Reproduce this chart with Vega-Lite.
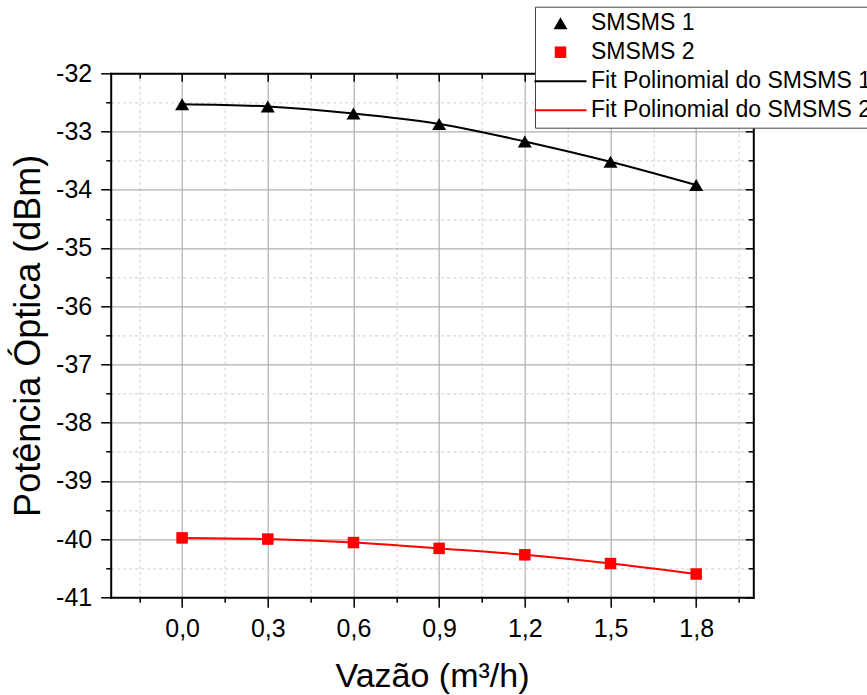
{
  "$schema": "https://vega.github.io/schema/vega-lite/v6.json",
  "width": 642.6,
  "height": 524,
  "autosize": {"type": "none"},
  "padding": {"left": 110.7, "top": 73.3, "right": 113.7, "bottom": 97.7},
  "background": "white",
  "config": {"font": "Liberation Sans", "view": {"stroke": null}},
  "datasets": {
    "pts": [
      {"x": 0.0, "y": -32.53, "lg": "SMSMS 1"},
      {"x": 0.3, "y": -32.57, "lg": "SMSMS 1"},
      {"x": 0.6, "y": -32.69, "lg": "SMSMS 1"},
      {"x": 0.9, "y": -32.87, "lg": "SMSMS 1"},
      {"x": 1.2, "y": -33.17, "lg": "SMSMS 1"},
      {"x": 1.5, "y": -33.52, "lg": "SMSMS 1"},
      {"x": 1.8, "y": -33.92, "lg": "SMSMS 1"},
      {"x": 0.0, "y": -39.98, "lg": "SMSMS 2"},
      {"x": 0.3, "y": -40.00, "lg": "SMSMS 2"},
      {"x": 0.6, "y": -40.06, "lg": "SMSMS 2"},
      {"x": 0.9, "y": -40.16, "lg": "SMSMS 2"},
      {"x": 1.2, "y": -40.27, "lg": "SMSMS 2"},
      {"x": 1.5, "y": -40.42, "lg": "SMSMS 2"},
      {"x": 1.8, "y": -40.60, "lg": "SMSMS 2"}
    ],
    "fit": [
      {"x": 0.0, "y": -32.53, "lg": "Fit Polinomial do SMSMS 1"},
      {"x": 0.3, "y": -32.57, "lg": "Fit Polinomial do SMSMS 1"},
      {"x": 0.6, "y": -32.69, "lg": "Fit Polinomial do SMSMS 1"},
      {"x": 0.9, "y": -32.87, "lg": "Fit Polinomial do SMSMS 1"},
      {"x": 1.2, "y": -33.17, "lg": "Fit Polinomial do SMSMS 1"},
      {"x": 1.5, "y": -33.52, "lg": "Fit Polinomial do SMSMS 1"},
      {"x": 1.8, "y": -33.92, "lg": "Fit Polinomial do SMSMS 1"},
      {"x": 0.0, "y": -39.98, "lg": "Fit Polinomial do SMSMS 2"},
      {"x": 0.3, "y": -40.00, "lg": "Fit Polinomial do SMSMS 2"},
      {"x": 0.6, "y": -40.06, "lg": "Fit Polinomial do SMSMS 2"},
      {"x": 0.9, "y": -40.16, "lg": "Fit Polinomial do SMSMS 2"},
      {"x": 1.2, "y": -40.27, "lg": "Fit Polinomial do SMSMS 2"},
      {"x": 1.5, "y": -40.42, "lg": "Fit Polinomial do SMSMS 2"},
      {"x": 1.8, "y": -40.60, "lg": "Fit Polinomial do SMSMS 2"}
    ]
  },
  "layer": [
    {
      "data": {"name": "fit"},
      "mark": {"type": "line", "interpolate": "monotone", "strokeWidth": 2},
      "encoding": {
        "x": {
          "field": "x", "type": "quantitative",
          "scale": {"domain": [-0.25, 2.0], "nice": false, "zero": false},
          "axis": {
            "orient": "bottom",
            "title": "Vazão (m³/h)",
            "titleFont": "Liberation Sans", "titleFontSize": 34, "titleFontWeight": "normal", "titleColor": "black", "titlePadding": 18,
            "values": [-0.15, 0, 0.15, 0.3, 0.45, 0.6, 0.75, 0.9, 1.05, 1.2, 1.35, 1.5, 1.65, 1.8, 1.95],
            "labelExpr": "abs(datum.value*10 - round(datum.value*10)) < 0.001 ? replace(format(datum.value, '.1f'), '.', ',') : ''",
            "labelFont": "Liberation Sans", "labelFontSize": 25, "labelColor": "black", "labelPadding": 9,
            "labelOverlap": false, "labelFlush": false,
            "domain": true, "domainColor": "black", "domainWidth": 2, "domainCap": "square",
            "ticks": true, "tickColor": "black", "tickWidth": 1.5,
            "tickSize": {"condition": {"test": "abs(datum.value*10 - round(datum.value*10)) < 0.001", "value": 10}, "value": 5},
            "grid": true,
            "gridColor": {"condition": {"test": "abs(datum.value*10 - round(datum.value*10)) < 0.001", "value": "#b0b0b0"}, "value": "#d6d6d6"},
            "gridDash": {"condition": {"test": "abs(datum.value*10 - round(datum.value*10)) < 0.001", "value": []}, "value": [3, 3]},
            "gridWidth": 1.2
          }
        },
        "y": {
          "field": "y", "type": "quantitative",
          "scale": {"domain": [-41, -32], "nice": false, "zero": false},
          "axis": {
            "orient": "left",
            "title": "Potência Óptica (dBm)",
            "titleFont": "Liberation Sans", "titleFontSize": 36, "titleFontWeight": "normal", "titleColor": "black", "titlePadding": 8,
            "values": [-41, -40.5, -40, -39.5, -39, -38.5, -38, -37.5, -37, -36.5, -36, -35.5, -35, -34.5, -34, -33.5, -33, -32.5, -32],
            "labelExpr": "datum.value % 1 == 0 ? toString(datum.value) : ''",
            "labelFont": "Liberation Sans", "labelFontSize": 25, "labelColor": "black", "labelPadding": 9,
            "labelOverlap": false, "labelFlush": false,
            "domain": true, "domainColor": "black", "domainWidth": 2, "domainCap": "square",
            "ticks": true, "tickColor": "black", "tickWidth": 1.5,
            "tickSize": {"condition": {"test": "datum.value % 1 == 0", "value": 10}, "value": 5},
            "grid": true,
            "gridColor": {"condition": {"test": "datum.value % 1 == 0", "value": "#b0b0b0"}, "value": "#d6d6d6"},
            "gridDash": {"condition": {"test": "datum.value % 1 == 0", "value": []}, "value": [3, 3]},
            "gridWidth": 1.2
          }
        },
        "color": {
          "field": "lg", "type": "nominal",
          "scale": {
            "domain": ["SMSMS 1", "SMSMS 2", "Fit Polinomial do SMSMS 1", "Fit Polinomial do SMSMS 2"],
            "range": ["#000000", "#ff0000", "#000000", "#ff0000"]
          },
          "legend": {
            "title": null,
            "orient": "none",
            "legendX": 424.3,
            "legendY": -66.6,
            "padding": 5,
            "rowPadding": 5,
            "strokeColor": "#444444",
            "fillColor": "white",
            "symbolSize": 100,
            "symbolStrokeWidth": 2,
            "symbolOffset": 9,
            "labelOffset": 19,
            "labelFont": "Liberation Sans",
            "labelFontSize": 23,
            "labelColor": "black",
            "labelLimit": 600,
            "encode": {
              "symbols": {
                "update": {
                  "fill": {"scale": "color", "field": "value"},
                  "stroke": {"scale": "color", "field": "value"},
                  "strokeWidth": {"value": 2},
                  "strokeOpacity": {"signal": "indexof(datum.value, 'Fit') == 0 ? 1 : 0"},
                  "shape": {"scale": "shape", "field": "value"},
                  "size": {"value": 100},
                  "opacity": {"value": 1}
                }
              }
            }
          }
        },
        "detail": {"field": "lg", "type": "nominal"}
      }
    },
    {
      "data": {"name": "pts"},
      "mark": {"type": "point", "filled": true, "size": 100, "opacity": 1, "strokeWidth": 0},
      "encoding": {
        "x": {
          "field": "x", "type": "quantitative",
          "axis": {
            "orient": "top",
            "title": null,
            "values": [-0.15, 0, 0.15, 0.3, 0.45, 0.6, 0.75, 0.9, 1.05, 1.2, 1.35, 1.5, 1.65, 1.8, 1.95],
            "labels": false,
            "domain": true, "domainColor": "black", "domainWidth": 2, "domainCap": "square",
            "ticks": true, "tickColor": "black", "tickWidth": 1.5,
            "tickSize": {"condition": {"test": "abs(datum.value*10 - round(datum.value*10)) < 0.001", "value": -8}, "value": -5},
            "grid": false
          }
        },
        "y": {
          "field": "y", "type": "quantitative",
          "axis": {
            "orient": "right",
            "title": null,
            "values": [-41, -40.5, -40, -39.5, -39, -38.5, -38, -37.5, -37, -36.5, -36, -35.5, -35, -34.5, -34, -33.5, -33, -32.5, -32],
            "labels": false,
            "domain": true, "domainColor": "black", "domainWidth": 2, "domainCap": "square",
            "ticks": true, "tickColor": "black", "tickWidth": 1.5,
            "tickSize": {"condition": {"test": "datum.value % 1 == 0", "value": -8}, "value": -5},
            "grid": false
          }
        },
        "color": {"field": "lg", "type": "nominal", "legend": null},
        "shape": {
          "field": "lg", "type": "nominal",
          "scale": {
            "domain": ["SMSMS 1", "SMSMS 2", "Fit Polinomial do SMSMS 1", "Fit Polinomial do SMSMS 2"],
            "range": ["M0,-1.2L1.4,1.2L-1.4,1.2Z", "M-1.15,-1.15H1.15V1.15H-1.15Z", "M-5.2,0H5.2", "M-5.2,0H5.2"]
          },
          "legend": null
        }
      }
    }
  ],
  "resolve": {"axis": {"x": "independent", "y": "independent"}}
}
